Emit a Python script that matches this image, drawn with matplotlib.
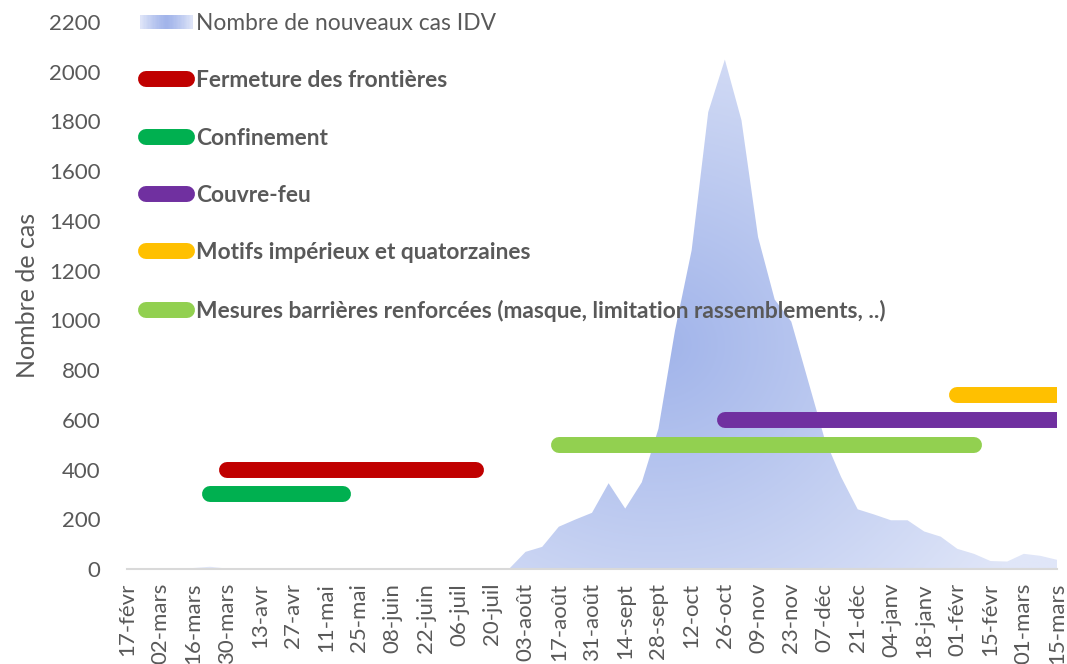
"""Nouveaux cas hebdomadaires IDV et périodes des mesures sanitaires."""
import matplotlib

matplotlib.use("Agg")
import matplotlib.pyplot as plt
import numpy as np
from matplotlib.legend_handler import HandlerBase
from matplotlib.lines import Line2D
from matplotlib.patches import Patch, Rectangle

plt.rcParams["font.family"] = ["Lato", "DejaVu Sans"]

GRIS = "#595959"

# Libellés de l'axe des x (une semaine sur deux)
labels = ["17-févr", "02-mars", "16-mars", "30-mars", "13-avr", "27-avr", "11-mai",
          "25-mai", "08-juin", "22-juin", "06-juil", "20-juil", "03-août", "17-août",
          "31-août", "14-sept", "28-sept", "12-oct", "26-oct", "09-nov", "23-nov",
          "07-déc", "21-déc", "04-janv", "18-janv", "01-févr", "15-févr", "01-mars",
          "15-mars"]

# Nouveaux cas par semaine (57 semaines)
cas = [0, 0, 0, 1, 4, 9, 2, 0, 0, 0, 0, 0, 0, 0, 0, 0, 0, 0, 0, 0, 0, 0, 0, 0,
       69, 89, 170, 199, 226, 345, 243, 349, 564, 960, 1282, 1838, 2049, 1805,
       1335, 1084, 995, 760, 525, 370, 240, 219, 196, 196, 151, 130, 81, 61, 32,
       30, 61, 53, 37]

# Mesures : libellé, semaine début, semaine fin, niveau, couleur
mesures_noms = ["Fermeture des frontières", "Confinement", "Couvre-feu",
                "Motifs impérieux et quatorzaines",
                "Mesures barrières renforcées (masque, limitation rassemblements, ..)"]
mesures_debut = [6, 5, 36, 50, 26]
mesures_fin = [21, 13, 56, 56, 51]
mesures_niveau = [400, 300, 600, 700, 500]
mesures_couleurs = ["#C00000", "#00B050", "#7030A0", "#FFC000", "#92D050"]

BLEU_FONCE = np.array([161, 180, 234]) / 255
BLEU_CLAIR = np.array([224, 230, 248]) / 255


class GradientHandler(HandlerBase):
    def create_artists(self, legend, orig_handle, xdescent, ydescent,
                       width, height, fontsize, trans):
        n = 40
        x0 = -xdescent - 4
        w = width + 8
        arts = []
        for k in range(n):
            t = abs((k + 0.5) / n - 0.5) * 2
            col = BLEU_FONCE + (BLEU_CLAIR - BLEU_FONCE) * t ** 1.3
            arts.append(Rectangle((x0 + k * w / n, -ydescent + height * 0.05), w / n + 0.3,
                                  height * 0.9, facecolor=col, edgecolor="none",
                                  transform=trans))
        return arts


fig = plt.figure(figsize=(10.67, 6.64), dpi=100)
ax = fig.add_axes([127 / 1067, 1 - 569 / 664, 930 / 1067, 547 / 664])

x = np.arange(len(cas))
ax.set_xlim(0, len(cas) - 1)
ax.set_ylim(0, 2200)

# Aire avec dégradé radial, découpée selon la courbe
aire = ax.fill_between(x, 0, cas, facecolor="none", edgecolor="none", zorder=1)
gx, gy = np.meshgrid(np.linspace(0, len(cas) - 1, 400), np.linspace(0, 2200, 300))
px, py = gx * 16.6, gy * 0.2465
d = np.hypot(px - 32 * 16.6, (py - 900 * 0.2465) * 1.1) / 420
t = np.clip(d, 0, 1)
img = BLEU_FONCE[None, None, :] + (BLEU_CLAIR - BLEU_FONCE)[None, None, :] * t[..., None]
im = ax.imshow(img, extent=[0, len(cas) - 1, 0, 2200], origin="lower",
               aspect="auto", zorder=1, interpolation="bilinear")
im.set_clip_path(aire.get_paths()[0], transform=ax.transData)

# Barres des mesures
for nom, deb, fin, niv, col in zip(mesures_noms, mesures_debut, mesures_fin,
                                   mesures_niveau, mesures_couleurs):
    ax.plot([deb, fin], [niv, niv], color=col, lw=11.5, solid_capstyle="round",
            zorder=3)

# Axes
ax.set_xticks(np.arange(0, len(cas), 2))
ax.set_xticklabels(labels, rotation=90, fontsize=16, color=GRIS)
ax.set_yticks(np.arange(0, 2201, 200))
ax.tick_params(axis="y", length=0, pad=19, labelsize=16, labelcolor=GRIS)
ax.tick_params(axis="x", length=0, pad=10)
for s in ["top", "right", "left"]:
    ax.spines[s].set_visible(False)
ax.spines["bottom"].set_color("#D9D9D9")
ax.spines["bottom"].set_linewidth(1.5)
ax.spines["bottom"].set_zorder(2)
ax.set_ylabel("Nombre de cas", fontsize=18, color=GRIS, labelpad=7)

# Légende
handles = [Patch(label="Nombre de nouveaux cas IDV")]
for i in range(len(mesures_noms)):
    handles.append(Line2D([], [], color=mesures_couleurs[i], lw=11.5,
                          solid_capstyle="round", label=mesures_noms[i]))
leg = ax.legend(handles=handles, handler_map={Patch: GradientHandler()},
                loc="upper left", bbox_to_anchor=(146 / 1067, 1 - 13 / 664),
                bbox_transform=fig.transFigure, frameon=False, fontsize=16.35,
                labelspacing=1.6, handlelength=1.81, handletextpad=0.39,
                borderpad=0, borderaxespad=0)
for k, txt in enumerate(leg.get_texts()):
    txt.set_color(GRIS)
    if k > 0:
        txt.set_fontweight("bold")

fig.savefig("out.png", dpi=100)
